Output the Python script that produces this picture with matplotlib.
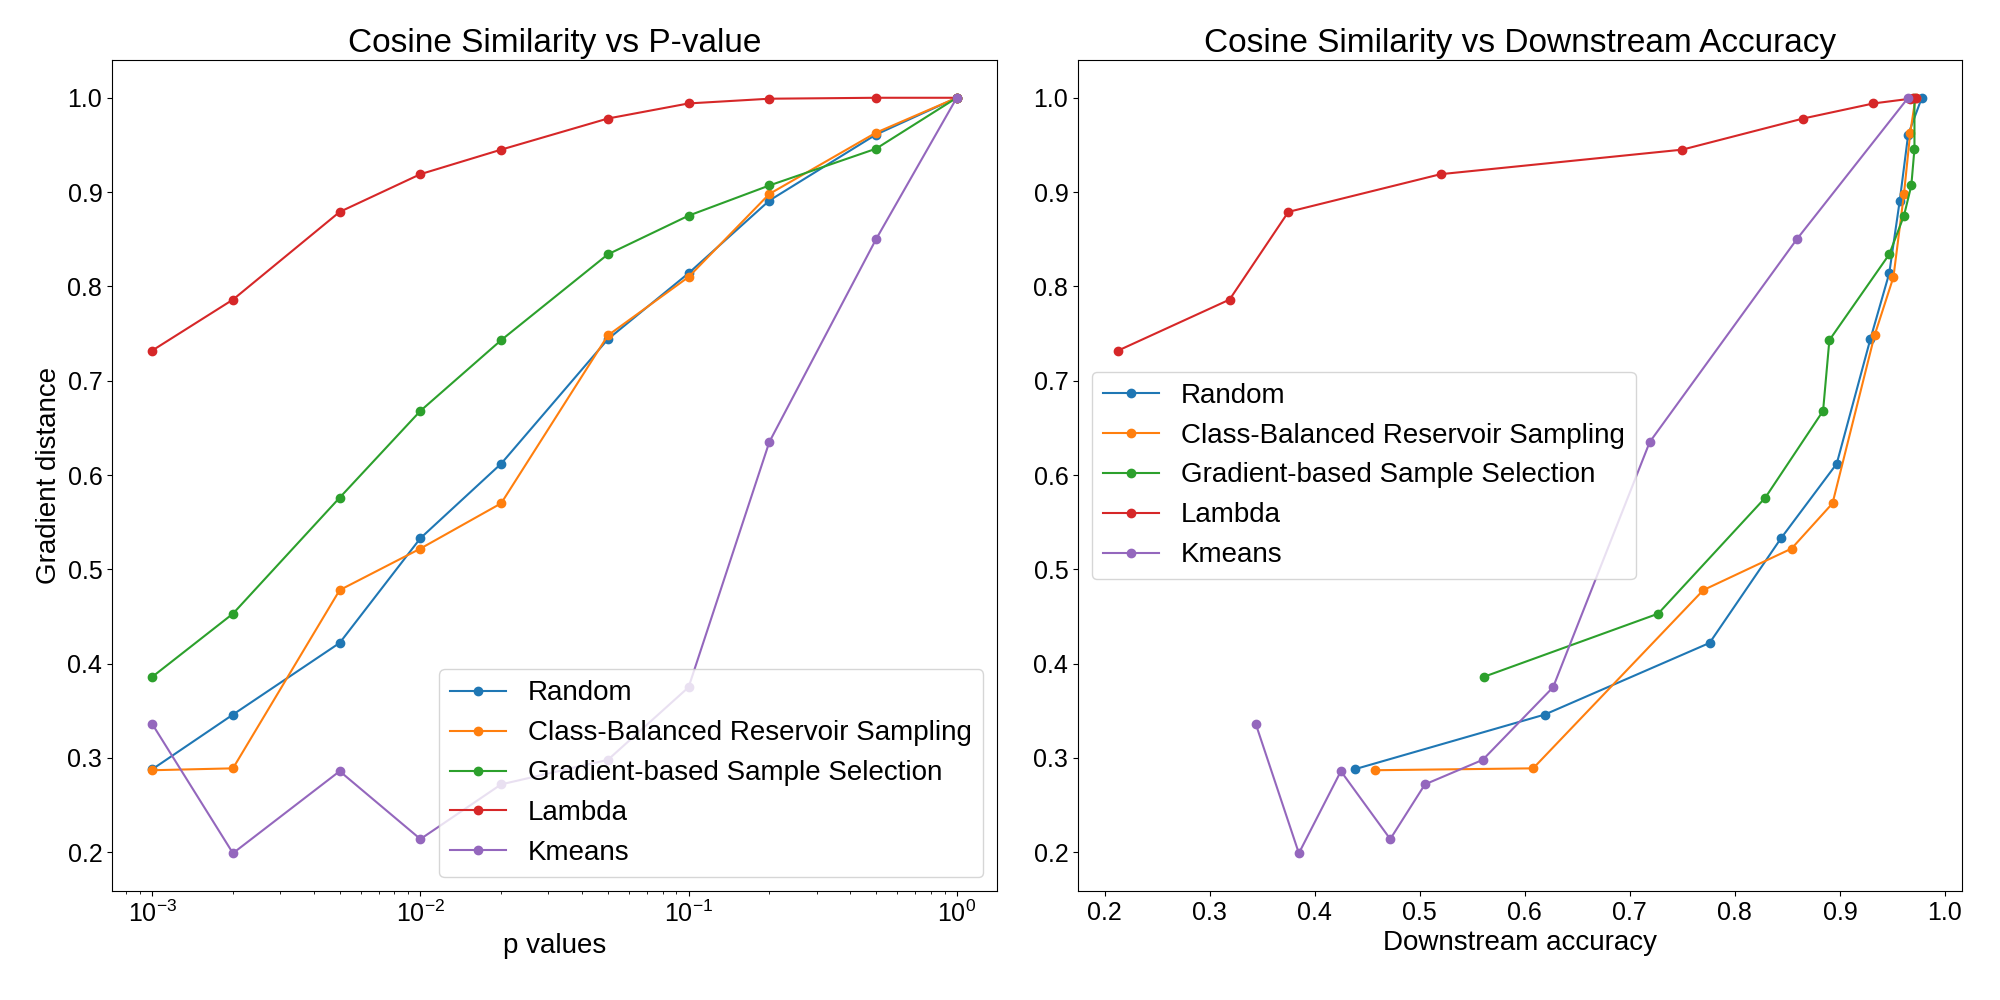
import matplotlib
matplotlib.use("Agg")
import matplotlib.pyplot as plt

p_values = [0.001, 0.002, 0.005, 0.01, 0.02, 0.05, 0.1, 0.2, 0.5, 1.0]
labels = ["Random", "Class-Balanced Reservoir Sampling", "Gradient-based Sample Selection", "Lambda", "Kmeans"]

sim_random = [0.288, 0.346, 0.422, 0.533, 0.612, 0.744, 0.814, 0.891, 0.961, 1.0]
sim_cbrs = [0.287, 0.289, 0.478, 0.522, 0.570, 0.748, 0.810, 0.898, 0.963, 1.0]
sim_gbss = [0.386, 0.453, 0.576, 0.668, 0.743, 0.834, 0.875, 0.907, 0.946, 1.0]
sim_lambda = [0.732, 0.786, 0.879, 0.919, 0.945, 0.978, 0.994, 0.999, 1.0, 1.0]
sim_kmeans = [0.336, 0.199, 0.286, 0.214, 0.272, 0.298, 0.375, 0.635, 0.850, 1.0]

acc_random = [0.438, 0.619, 0.776, 0.844, 0.897, 0.929, 0.947, 0.957, 0.965, 0.978]
acc_cbrs = [0.457, 0.608, 0.770, 0.854, 0.893, 0.933, 0.951, 0.961, 0.967, 0.972]
acc_gbss = [0.561, 0.727, 0.829, 0.884, 0.890, 0.947, 0.961, 0.968, 0.971, 0.971]
acc_lambda = [0.213, 0.319, 0.375, 0.520, 0.750, 0.865, 0.932, 0.967, 0.970, 0.972]
acc_kmeans = [0.344, 0.385, 0.425, 0.472, 0.505, 0.560, 0.627, 0.719, 0.859, 0.965]

sims = [sim_random, sim_cbrs, sim_gbss, sim_lambda, sim_kmeans]
accs = [acc_random, acc_cbrs, acc_gbss, acc_lambda, acc_kmeans]

plt.rcParams['font.family'] = ['Liberation Sans', 'DejaVu Sans']
fig = plt.figure(figsize=(20, 10), dpi=100)
ax1 = fig.add_axes([0.056, 0.109, 0.4425, 0.831])
ax2 = fig.add_axes([0.539, 0.109, 0.442, 0.831])

for lab, s in zip(labels, sims):
    ax1.plot(p_values, s, marker='o', label=lab)
ax1.set_xscale('log')
ax1.set_title("Cosine Similarity vs P-value", fontsize=24)
ax1.set_xlabel("p values", fontsize=20)
ax1.set_ylabel("Gradient distance", fontsize=20)
ax1.tick_params(labelsize=18)
ax1.legend(loc='lower right', fontsize=20)

for lab, s, a in zip(labels, sims, accs):
    ax2.plot(a, s, marker='o', label=lab)
ax2.set_title("Cosine Similarity vs Downstream Accuracy", fontsize=24)
ax2.set_xlabel("Downstream accuracy", fontsize=20)
ax2.tick_params(labelsize=18)
ax2.legend(loc='center left', fontsize=20)

fig.savefig("out.png", dpi=100)
